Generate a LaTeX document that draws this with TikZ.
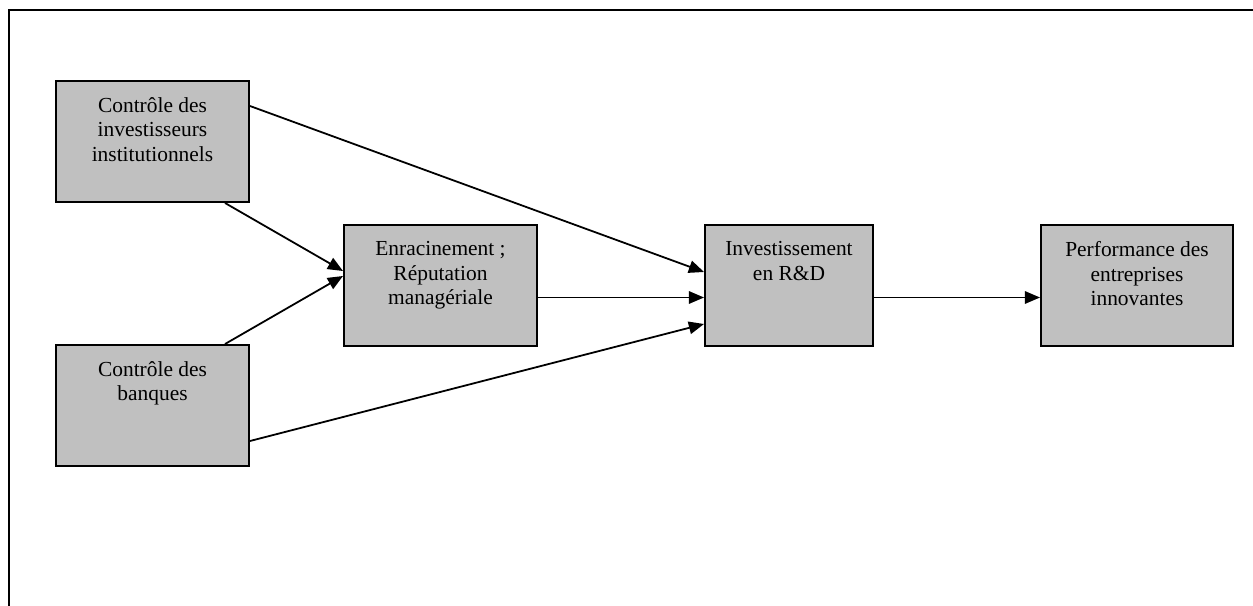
\documentclass[tikz,border=0pt]{standalone}
\usepackage{fontspec}
\setmainfont{Liberation Serif}
\usetikzlibrary{calc,arrows.meta}
\begin{document}
\begin{tikzpicture}[x=0.56pt,y=-0.56pt,
  box/.style={draw=black,line width=1.1pt,fill=boxgray,rectangle,inner sep=0pt,minimum height=121*0.56pt},
  txt/.style={anchor=north,inner sep=0pt,align=center,font=\fontsize{12pt}{13.8pt}\selectfont},
  conn/.style={line width=1pt,-{Triangle[length=8.5pt,width=7pt]}},
  plain/.style={line width=1pt}]
\definecolor{boxgray}{HTML}{C0C0C0}
\useasboundingbox (0,0) rectangle (1253,606);
\clip (0,0) rectangle (1253,606);
\draw[line width=1.2pt] (9,10) rectangle (1275,630);
\node[box,minimum width=193*0.56pt] (b1) at (152.5,141.5) {};
\node[box,minimum width=193*0.56pt] (b2) at (152.5,405.5) {};
\node[box,minimum width=193*0.56pt] (b3) at (440.5,285.5) {};
\node[box,minimum width=168*0.56pt] (b4) at (789,285.5) {};
\node[box,minimum width=192*0.56pt] (b5) at (1137,285.5) {};
\node[txt] (t1) at ($(b1.north)+(0,17)$) {Contrôle des\\investisseurs\\institutionnels};
\node[txt] (t2) at ($(b2.north)+(0,17)$) {Contrôle des\\banques};
\node[txt] (t3) at ($(b3.north)+(0,17)$) {Enracinement ;\\Réputation\\managériale};
\node[txt] (t4) at ($(b4.north)+(0,17)$) {Investissement\\en R\&D};
\node[txt] (t5) at ($(b5.north)+(0,17)$) {Performance des\\entreprises\\innovantes};
\draw[conn] ($(b1.east)+(0,-35.5)$) -- ($(b4.west)+(0,-13.5)$);
\draw[conn] ($(b1.south)+(72.5,0)$) -- ($(b3.west)+(0,-14.5)$);
\draw[conn] ($(b2.north)+(72.5,0)$) -- ($(b3.west)+(0,-9.5)$);
\draw[conn] ($(b3.east)+(0,12)$) -- ($(b4.west)+(0,12)$);
\draw[conn] ($(b2.east)+(0,35.5)$) -- ($(b4.west)+(0,38.5)$);
\draw[conn] ($(b4.east)+(0,12)$) -- ($(b5.west)+(0,12)$);
\end{tikzpicture}
\end{document}
